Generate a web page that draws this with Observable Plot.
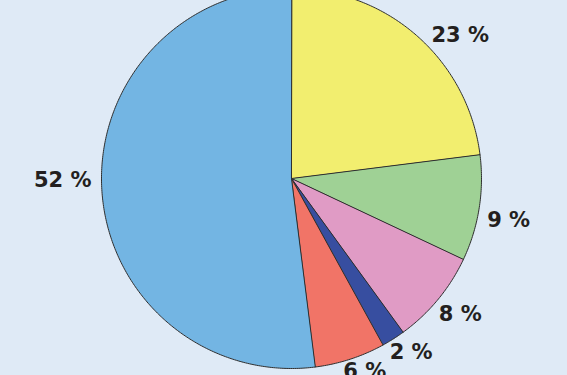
<!DOCTYPE html>
<html>
<head>
<meta charset="utf-8">
<script src="https://cdn.jsdelivr.net/npm/d3@7"></script>
<script src="https://cdn.jsdelivr.net/npm/@observablehq/plot@0.6"></script>
<style>
  html, body { margin: 0; padding: 0; background: #dfeaf6; overflow: hidden; }
</style>
</head>
<body>
<div id="chart"></div>
<script>
// Slice shares (percent), clockwise from 12 o'clock
const sliceKeys = ["a", "b", "c", "d", "e", "f"];
const shares = [23, 9, 8, 2, 6, 52];
const sliceColors = ["#f2ee6f", "#9fd195", "#e09bc5", "#374ea0", "#f17467", "#73b5e3"];

// Layout (pixels)
const W = 567, H = 375;
const CX = 291, CY = 178, R = 190;
const LABEL_R = 200 / R;               // label radius, in pie radii
const LABEL_TURN = 3 * Math.PI / 180;  // slight clockwise turn of labels

const arcs = d3.pie().sort(null).value(d => d)(shares);

// Closed outline of each slice: centre, then the arc sampled finely
const outline = [];
arcs.forEach((a, i) => {
  const key = sliceKeys[i];
  outline.push({ key, x: 0, y: 0 });
  const n = Math.max(4, Math.ceil((a.endAngle - a.startAngle) / 0.01));
  for (let k = 0; k <= n; k++) {
    const t = a.startAngle + (a.endAngle - a.startAngle) * k / n;
    outline.push({ key, x: Math.sin(t), y: Math.cos(t) });
  }
});

const labels = arcs.map((a, i) => {
  const t = (a.startAngle + a.endAngle) / 2 + LABEL_TURN;
  return {
    x: Math.sin(t) * LABEL_R,
    y: Math.cos(t) * LABEL_R,
    text: `${shares[i]} %`,
    right: Math.sin(t) >= 0
  };
});

const textStyle = { x: "x", y: "y", text: "text", fontSize: 21, fontWeight: "bold", fill: "#231f20" };

const chart = Plot.plot({
  width: W,
  height: H,
  margin: 0,
  style: { background: "#dfeaf6", fontFamily: "'DejaVu Sans', sans-serif", overflow: "hidden" },
  x: { domain: [-CX / R, (W - CX) / R], range: [0, W], axis: null },
  y: { domain: [(CY - H) / R, CY / R], range: [H, 0], axis: null },
  color: { domain: sliceKeys, range: sliceColors, legend: false },
  marks: [
    Plot.line(outline, {
      x: "x", y: "y", z: "key", fill: "key",
      stroke: "#2e2e2e", strokeWidth: 1, curve: "linear-closed", strokeLinejoin: "round"
    }),
    Plot.text(labels.filter(d => d.right), { ...textStyle, textAnchor: "start" }),
    Plot.text(labels.filter(d => !d.right), { ...textStyle, textAnchor: "end" })
  ]
});

document.getElementById("chart").append(chart);
</script>
</body>
</html>
